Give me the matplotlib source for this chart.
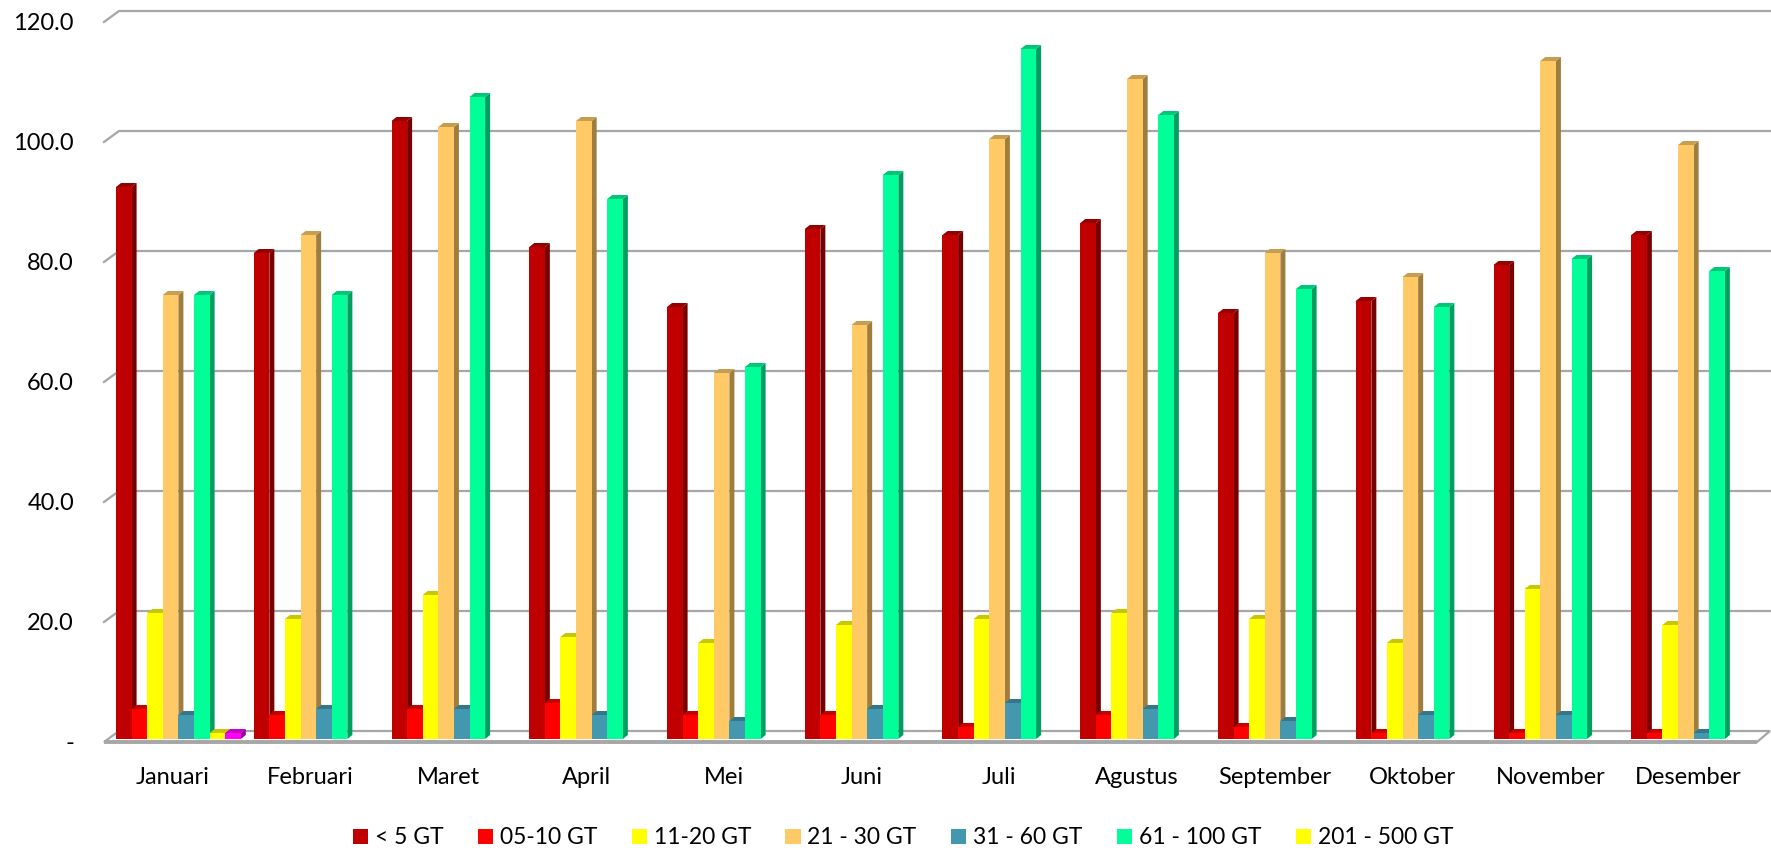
import matplotlib
matplotlib.use('Agg')
import matplotlib.pyplot as plt
from matplotlib.patches import Polygon, Patch
from matplotlib.colors import to_rgb

# ---------------- data ----------------
months = ["Januari", "Februari", "Maret", "April", "Mei", "Juni", "Juli",
          "Agustus", "September", "Oktober", "November", "Desember"]
series_names = ["< 5 GT", "05-10 GT", "11-20 GT", "21 - 30 GT",
                "31 - 60 GT", "61 - 100 GT", "201 - 500 GT"]
gt_lt5    = [92, 81, 103, 82, 72, 85, 84, 86, 71, 73, 79, 84]
gt_05_10  = [5, 4, 5, 6, 4, 4, 2, 4, 2, 1, 1, 1]
gt_11_20  = [21, 20, 24, 17, 16, 19, 20, 21, 20, 16, 25, 19]
gt_21_30  = [74, 84, 102, 103, 61, 69, 100, 110, 81, 77, 113, 99]
gt_31_60  = [4, 5, 5, 4, 3, 5, 6, 5, 3, 4, 4, 1]
gt_61_100 = [74, 74, 107, 90, 62, 94, 115, 104, 75, 72, 80, 78]
gt_201_500 = [1, 0, 0, 0, 0, 0, 0, 0, 0, 0, 0, 0]
gt_other  = [1, 0, 0, 0, 0, 0, 0, 0, 0, 0, 0, 0]   # unlabeled magenta series
all_series = [gt_lt5, gt_05_10, gt_11_20, gt_21_30, gt_31_60, gt_61_100,
              gt_201_500, gt_other]
colors = ["#C00000", "#FF0000", "#FFFF00", "#FFCA66", "#4398B0", "#00FF99",
          "#FFFF00", "#FF00FF"]
yticks = [0, 20, 40, 60, 80, 100, 120]
ytick_labels = ["-", "20.0", "40.0", "60.0", "80.0", "100.0", "120.0"]

# ---------------- layout ----------------
plt.rcParams['font.family'] = ['Lato', 'DejaVu Sans']
W, H = 1771, 852
fig = plt.figure(figsize=(W / 100, H / 100), dpi=100)
L, R = 104, 1757
base = 739
ppu = 6.0
ax = fig.add_axes([L / W, (H - base) / H, (R - L) / W, 120 * ppu / H])
ax.set_xlim(0, 12)
ax.set_ylim(0, 120)
ax.axis('off')
px = 12 / (R - L)
py = 1 / ppu

grid_col = "#A6A6A6"
back_dx, back_dy, front_dy = 15 * px, 8 * py, 3 * py

# floor
floor = Polygon([(0, -front_dy), (12, -front_dy), (12 + 13 * px, back_dy),
                 (back_dx, back_dy)], closed=True, facecolor='white',
                edgecolor=grid_col, lw=1.6, zorder=1, clip_on=False)
ax.add_patch(floor)
ax.plot([0, 12], [-front_dy, -front_dy], color=grid_col, lw=2.8,
        zorder=1.1, clip_on=False, solid_capstyle='butt')

# gridlines on back wall
x_end = (W - L) * px
for v in yticks[1:]:
    ax.plot([0, back_dx, x_end], [v - front_dy, v + back_dy, v + back_dy],
            color=grid_col, lw=1.6, zorder=0.5, clip_on=False)

for v, lab in zip(yticks, ytick_labels):
    ax.text(-30 * px, v - 5 * py, lab, ha='right', va='center',
            fontsize=17, color='black')

for i, m in enumerate(months):
    ax.text(i + 0.5, -38 * py, m, ha='center', va='center', fontsize=17,
            color='black')


def shade(c, f):
    r, g, b = to_rgb(c)
    return (r * f, g * f, b * f)


bw = 15.6 / 137.75
start = 12 / 137.75
ddx, ddy = 5 * px, 4 * py
z = 2
for i in range(len(months)):
    for j, s in enumerate(all_series):
        v = s[i]
        if v <= 0:
            continue
        x0 = i + start + j * bw
        x1 = x0 + bw
        c = colors[j]
        side = Polygon([(x1, 0), (x1 + ddx, ddy), (x1 + ddx, v + ddy), (x1, v)],
                       closed=True, facecolor=shade(c, 0.62), edgecolor='none',
                       zorder=z, clip_on=False)
        top = Polygon([(x0, v), (x0 + ddx, v + ddy), (x1 + ddx, v + ddy), (x1, v)],
                      closed=True, facecolor=shade(c, 0.78), edgecolor='none',
                      zorder=z, clip_on=False)
        ax.add_patch(side)
        ax.add_patch(top)
        ax.bar(x0, v, width=bw, align='edge', color=c, edgecolor='none',
               zorder=z + 0.5, clip_on=False)
        z += 1

handles = [Patch(facecolor=colors[k], edgecolor='none') for k in range(7)]
fig.legend(handles, series_names, loc='center',
           bbox_to_anchor=(903 / W, 14 / H), ncol=7, frameon=False,
           fontsize=16.5, handlelength=0.66, handleheight=0.66,
           handletextpad=0.3, columnspacing=1.5, borderaxespad=0)

fig.savefig("out.png", dpi=100)
